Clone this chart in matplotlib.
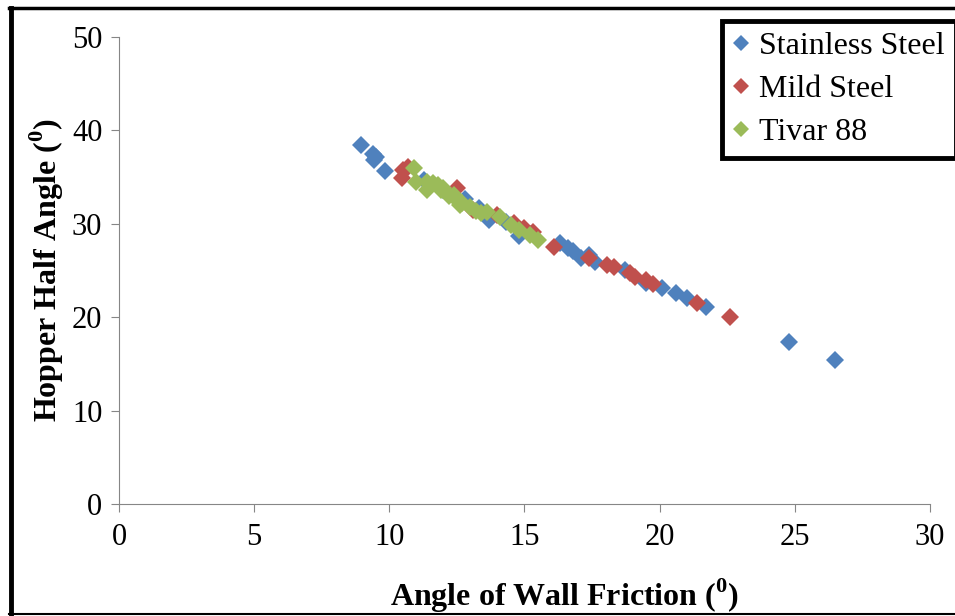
import matplotlib.pyplot as plt
from matplotlib.lines import Line2D

# Stainless Steel
ss_x = [8.95, 9.4, 9.5, 9.45, 9.85, 11.3, 12.0, 12.8, 13.3, 13.7, 14.3, 14.8, 15.2,
        16.3, 16.6, 16.8, 17.1, 17.4, 17.6, 18.7, 19.5, 20.1, 20.6, 21.0, 21.7, 24.8, 26.5]
ss_y = [38.4, 37.5, 37.2, 36.8, 35.6, 34.7, 33.6, 32.6, 31.7, 30.4, 30.2, 28.7, 28.9,
        27.9, 27.4, 27.1, 26.3, 26.7, 25.9, 25.0, 23.7, 23.1, 22.6, 22.1, 21.1, 17.3, 15.4]

# Mild Steel
ms_x = [10.5, 10.47, 10.7, 12.5, 13.1, 14.0, 14.6, 15.0, 15.3, 16.1,
        17.4, 18.05, 18.3, 18.9, 19.1, 19.5, 19.75, 21.4, 22.6]
ms_y = [35.8, 34.9, 36.1, 33.8, 31.5, 30.9, 30.1, 29.6, 29.1, 27.5,
        26.3, 25.6, 25.4, 24.7, 24.3, 24.0, 23.6, 21.5, 20.0]

# Tivar 88
tv_x = [10.9, 11.0, 11.4, 11.6, 11.4, 11.8, 11.9, 12.0, 12.1, 12.2, 12.4, 12.5, 12.6,
        12.7, 13.0, 13.2, 13.4, 13.6, 14.1, 14.5, 14.8, 15.2, 15.5]
tv_y = [36.0, 34.5, 34.5, 34.4, 33.6, 34.2, 33.6, 33.8, 33.4, 33.0, 33.1, 32.5, 32.0,
        32.2, 31.8, 31.4, 31.2, 31.3, 30.7, 29.9, 29.3, 28.8, 28.3]

plt.rcParams['font.family'] = 'Liberation Serif'
plt.rcParams['mathtext.fontset'] = 'custom'
plt.rcParams['mathtext.rm'] = 'Liberation Serif'
plt.rcParams['mathtext.bf'] = 'Liberation Serif:bold'

fig = plt.figure(figsize=(9.55, 6.16), dpi=100)
ax = fig.add_axes([0.1246, 0.1818, 0.8492, 0.7582])

ax.plot(ss_x, ss_y, 'D', color='#4F81BD', ms=9, mew=0, label='Stainless Steel')
ax.plot(ms_x, ms_y, 'D', color='#C0504D', ms=9, mew=0, label='Mild Steel')
ax.plot(tv_x, tv_y, 'D', color='#9BBB59', ms=9, mew=0, label='Tivar 88')

ax.set_xlim(0, 30)
ax.set_ylim(0, 50)
ax.set_xticks(range(0, 31, 5))
ax.set_yticks(range(0, 51, 10))
for s in ['top', 'right']:
    ax.spines[s].set_visible(False)
for s in ['left', 'bottom']:
    ax.spines[s].set_color('#868686')
ax.tick_params(colors='#868686', labelcolor='black', labelsize=22, length=6, direction='out')
ax.tick_params(axis='x', pad=8)
ax.tick_params(axis='y', pad=6)

ax.set_xlabel(r'Angle of Wall Friction ($^{\mathbf{0}}$)', fontsize=23, fontweight='bold', labelpad=14)
ax.set_ylabel(r'Hopper Half Angle ($^{\mathbf{0}}$)', fontsize=23, fontweight='bold', labelpad=4)
ax.xaxis.set_label_coords(0.549, -0.155)

leg = fig.legend(loc='upper left', bbox_to_anchor=(0.756, 0.966), fontsize=23,
                 frameon=True, fancybox=False, framealpha=1, handlelength=0.5, handletextpad=0.3,
                 borderpad=0.35, labelspacing=0.42, borderaxespad=0, markerscale=0.85)
leg.get_frame().set_edgecolor('black')
leg.get_frame().set_linewidth(3.5)

# outer frame of the picture
fig.add_artist(Line2D([0.0115, 0.0115], [0.0, 0.987], color='black', lw=3.5, transform=fig.transFigure))
fig.add_artist(Line2D([0.0095, 1.0], [0.987, 0.987], color='black', lw=2.5, transform=fig.transFigure))
fig.add_artist(Line2D([0.0095, 1.0], [0.004, 0.004], color='black', lw=1.5, transform=fig.transFigure))

fig.savefig('out.png', dpi=100)
